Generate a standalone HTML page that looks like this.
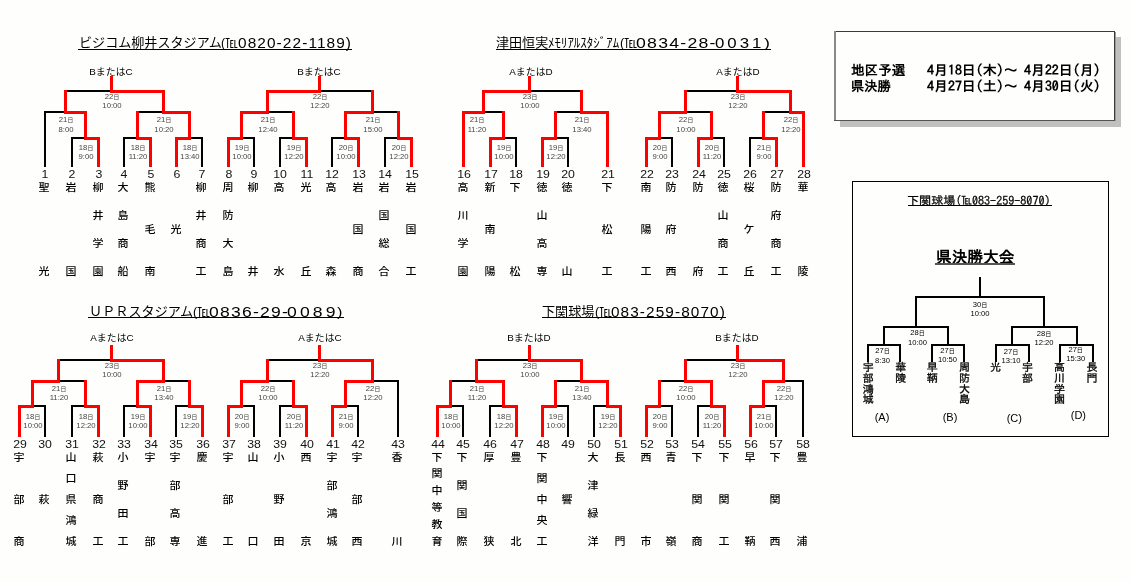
<!DOCTYPE html>
<html lang="ja"><head><meta charset="utf-8"><title>tournament</title>
<style>
html,body{margin:0;padding:0;}
body{width:1133px;height:582px;position:relative;overflow:hidden;background:#fefefc;
font-family:"Liberation Sans","Noto Sans CJK JP",sans-serif;}
.k{position:absolute;background:#000;}
.r{position:absolute;background:#ff0000;}
.t{position:absolute;white-space:nowrap;line-height:1;}
.c{transform:translateX(-50%);}
.num{font-size:11px;color:#111;}
.nm{font-size:10px;color:#000;font-family:"Liberation Sans","Noto Sans CJK JP",sans-serif;font-weight:500;}
.dt{font-size:7px;color:#444;}
.s{font-size:80%;}
.lb{font-size:9px;color:#000;}
.ttl{font-size:13px;color:#000;font-family:"Liberation Sans","Noto Sans CJK JP",sans-serif;transform-origin:0 0;}
.ul{position:absolute;height:1px;background:#000;}
.g{font-family:"IPAGothic","Noto Sans CJK JP",monospace;}
</style></head><body>

<div class="k" style="left:65px;top:90px;width:100px;height:2px"></div>
<div class="k" style="left:44px;top:111px;width:43px;height:2px"></div>
<div class="k" style="left:44px;top:111px;width:2px;height:56px"></div>
<div class="k" style="left:71px;top:137px;width:28px;height:2px"></div>
<div class="k" style="left:71px;top:137px;width:2px;height:30px"></div>
<div class="k" style="left:137px;top:111px;width:54px;height:2px"></div>
<div class="k" style="left:123px;top:137px;width:28px;height:2px"></div>
<div class="k" style="left:123px;top:137px;width:2px;height:30px"></div>
<div class="k" style="left:175px;top:137px;width:28px;height:2px"></div>
<div class="k" style="left:201px;top:137px;width:2px;height:30px"></div>
<div class="k" style="left:267px;top:90px;width:106px;height:2px"></div>
<div class="k" style="left:241px;top:111px;width:54px;height:2px"></div>
<div class="k" style="left:227px;top:137px;width:28px;height:2px"></div>
<div class="k" style="left:253px;top:137px;width:2px;height:30px"></div>
<div class="k" style="left:279px;top:137px;width:28px;height:2px"></div>
<div class="k" style="left:279px;top:137px;width:2px;height:30px"></div>
<div class="k" style="left:345px;top:111px;width:54px;height:2px"></div>
<div class="k" style="left:331px;top:137px;width:28px;height:2px"></div>
<div class="k" style="left:331px;top:137px;width:2px;height:30px"></div>
<div class="k" style="left:384px;top:137px;width:29px;height:2px"></div>
<div class="k" style="left:384px;top:137px;width:2px;height:30px"></div>
<div class="k" style="left:483px;top:90px;width:100px;height:2px"></div>
<div class="k" style="left:463px;top:111px;width:42px;height:2px"></div>
<div class="k" style="left:489px;top:137px;width:28px;height:2px"></div>
<div class="k" style="left:515px;top:137px;width:2px;height:30px"></div>
<div class="k" style="left:555px;top:111px;width:54px;height:2px"></div>
<div class="k" style="left:541px;top:137px;width:28px;height:2px"></div>
<div class="k" style="left:567px;top:137px;width:2px;height:30px"></div>
<div class="k" style="left:685px;top:90px;width:106px;height:2px"></div>
<div class="k" style="left:659px;top:111px;width:54px;height:2px"></div>
<div class="k" style="left:645px;top:137px;width:28px;height:2px"></div>
<div class="k" style="left:671px;top:137px;width:2px;height:30px"></div>
<div class="k" style="left:697px;top:137px;width:28px;height:2px"></div>
<div class="k" style="left:723px;top:137px;width:2px;height:30px"></div>
<div class="k" style="left:763px;top:111px;width:42px;height:2px"></div>
<div class="k" style="left:749px;top:137px;width:28px;height:2px"></div>
<div class="k" style="left:749px;top:137px;width:2px;height:30px"></div>
<div class="k" style="left:57px;top:359px;width:108px;height:2px"></div>
<div class="k" style="left:31px;top:380px;width:56px;height:2px"></div>
<div class="k" style="left:19px;top:405px;width:27px;height:2px"></div>
<div class="k" style="left:44px;top:405px;width:2px;height:32px"></div>
<div class="k" style="left:71px;top:405px;width:28px;height:2px"></div>
<div class="k" style="left:71px;top:405px;width:2px;height:32px"></div>
<div class="k" style="left:137px;top:380px;width:54px;height:2px"></div>
<div class="k" style="left:123px;top:405px;width:28px;height:2px"></div>
<div class="k" style="left:123px;top:405px;width:2px;height:32px"></div>
<div class="k" style="left:175px;top:405px;width:28px;height:2px"></div>
<div class="k" style="left:175px;top:405px;width:2px;height:32px"></div>
<div class="k" style="left:267px;top:359px;width:106px;height:2px"></div>
<div class="k" style="left:241px;top:380px;width:54px;height:2px"></div>
<div class="k" style="left:227px;top:405px;width:28px;height:2px"></div>
<div class="k" style="left:253px;top:405px;width:2px;height:32px"></div>
<div class="k" style="left:279px;top:405px;width:28px;height:2px"></div>
<div class="k" style="left:279px;top:405px;width:2px;height:32px"></div>
<div class="k" style="left:345px;top:380px;width:54px;height:2px"></div>
<div class="k" style="left:331px;top:405px;width:28px;height:2px"></div>
<div class="k" style="left:357px;top:405px;width:2px;height:32px"></div>
<div class="k" style="left:397px;top:380px;width:2px;height:57px"></div>
<div class="k" style="left:475px;top:359px;width:108px;height:2px"></div>
<div class="k" style="left:449px;top:380px;width:56px;height:2px"></div>
<div class="k" style="left:437px;top:405px;width:27px;height:2px"></div>
<div class="k" style="left:462px;top:405px;width:2px;height:32px"></div>
<div class="k" style="left:489px;top:405px;width:28px;height:2px"></div>
<div class="k" style="left:489px;top:405px;width:2px;height:32px"></div>
<div class="k" style="left:555px;top:380px;width:54px;height:2px"></div>
<div class="k" style="left:541px;top:405px;width:28px;height:2px"></div>
<div class="k" style="left:567px;top:405px;width:2px;height:32px"></div>
<div class="k" style="left:593px;top:405px;width:28px;height:2px"></div>
<div class="k" style="left:593px;top:405px;width:2px;height:32px"></div>
<div class="k" style="left:685px;top:359px;width:100px;height:2px"></div>
<div class="k" style="left:659px;top:380px;width:54px;height:2px"></div>
<div class="k" style="left:645px;top:405px;width:28px;height:2px"></div>
<div class="k" style="left:671px;top:405px;width:2px;height:32px"></div>
<div class="k" style="left:697px;top:405px;width:28px;height:2px"></div>
<div class="k" style="left:697px;top:405px;width:2px;height:32px"></div>
<div class="k" style="left:763px;top:380px;width:41px;height:2px"></div>
<div class="k" style="left:749px;top:405px;width:28px;height:2px"></div>
<div class="k" style="left:775px;top:405px;width:2px;height:32px"></div>
<div class="k" style="left:802px;top:380px;width:2px;height:57px"></div>
<div class="r" style="left:110px;top:76px;width:3px;height:14px"></div>
<div class="r" style="left:110px;top:90px;width:55px;height:3px"></div>
<div class="r" style="left:64px;top:90px;width:3px;height:21px"></div>
<div class="r" style="left:64px;top:111px;width:23px;height:3px"></div>
<div class="r" style="left:84px;top:111px;width:3px;height:26px"></div>
<div class="r" style="left:84px;top:137px;width:16px;height:3px"></div>
<div class="r" style="left:97px;top:137px;width:3px;height:30px"></div>
<div class="r" style="left:162px;top:90px;width:3px;height:21px"></div>
<div class="r" style="left:162px;top:111px;width:29px;height:3px"></div>
<div class="r" style="left:136px;top:111px;width:3px;height:26px"></div>
<div class="r" style="left:136px;top:137px;width:16px;height:3px"></div>
<div class="r" style="left:149px;top:137px;width:3px;height:30px"></div>
<div class="r" style="left:188px;top:111px;width:3px;height:26px"></div>
<div class="r" style="left:175px;top:137px;width:16px;height:3px"></div>
<div class="r" style="left:175px;top:137px;width:3px;height:30px"></div>
<div class="r" style="left:318px;top:76px;width:3px;height:14px"></div>
<div class="r" style="left:266px;top:90px;width:55px;height:3px"></div>
<div class="r" style="left:266px;top:90px;width:3px;height:21px"></div>
<div class="r" style="left:240px;top:111px;width:29px;height:3px"></div>
<div class="r" style="left:240px;top:111px;width:3px;height:26px"></div>
<div class="r" style="left:227px;top:137px;width:16px;height:3px"></div>
<div class="r" style="left:227px;top:137px;width:3px;height:30px"></div>
<div class="r" style="left:292px;top:111px;width:3px;height:26px"></div>
<div class="r" style="left:292px;top:137px;width:16px;height:3px"></div>
<div class="r" style="left:305px;top:137px;width:3px;height:30px"></div>
<div class="r" style="left:371px;top:90px;width:3px;height:21px"></div>
<div class="r" style="left:344px;top:111px;width:30px;height:3px"></div>
<div class="r" style="left:344px;top:111px;width:3px;height:26px"></div>
<div class="r" style="left:344px;top:137px;width:16px;height:3px"></div>
<div class="r" style="left:357px;top:137px;width:3px;height:30px"></div>
<div class="r" style="left:397px;top:111px;width:3px;height:26px"></div>
<div class="r" style="left:397px;top:137px;width:16px;height:3px"></div>
<div class="r" style="left:410px;top:137px;width:3px;height:30px"></div>
<div class="r" style="left:528px;top:76px;width:3px;height:14px"></div>
<div class="r" style="left:482px;top:90px;width:49px;height:3px"></div>
<div class="r" style="left:482px;top:90px;width:3px;height:21px"></div>
<div class="r" style="left:462px;top:111px;width:23px;height:3px"></div>
<div class="r" style="left:462px;top:111px;width:3px;height:56px"></div>
<div class="r" style="left:502px;top:111px;width:3px;height:26px"></div>
<div class="r" style="left:489px;top:137px;width:16px;height:3px"></div>
<div class="r" style="left:489px;top:137px;width:3px;height:30px"></div>
<div class="r" style="left:580px;top:90px;width:3px;height:21px"></div>
<div class="r" style="left:580px;top:111px;width:29px;height:3px"></div>
<div class="r" style="left:554px;top:111px;width:3px;height:26px"></div>
<div class="r" style="left:541px;top:137px;width:16px;height:3px"></div>
<div class="r" style="left:541px;top:137px;width:3px;height:30px"></div>
<div class="r" style="left:606px;top:111px;width:3px;height:56px"></div>
<div class="r" style="left:736px;top:76px;width:3px;height:14px"></div>
<div class="r" style="left:736px;top:90px;width:56px;height:3px"></div>
<div class="r" style="left:684px;top:90px;width:3px;height:21px"></div>
<div class="r" style="left:658px;top:111px;width:29px;height:3px"></div>
<div class="r" style="left:658px;top:111px;width:3px;height:26px"></div>
<div class="r" style="left:645px;top:137px;width:16px;height:3px"></div>
<div class="r" style="left:645px;top:137px;width:3px;height:30px"></div>
<div class="r" style="left:710px;top:111px;width:3px;height:26px"></div>
<div class="r" style="left:697px;top:137px;width:16px;height:3px"></div>
<div class="r" style="left:697px;top:137px;width:3px;height:30px"></div>
<div class="r" style="left:789px;top:90px;width:3px;height:21px"></div>
<div class="r" style="left:789px;top:111px;width:16px;height:3px"></div>
<div class="r" style="left:762px;top:111px;width:3px;height:26px"></div>
<div class="r" style="left:762px;top:137px;width:16px;height:3px"></div>
<div class="r" style="left:775px;top:137px;width:3px;height:30px"></div>
<div class="r" style="left:802px;top:111px;width:3px;height:56px"></div>
<div class="r" style="left:110px;top:345px;width:3px;height:14px"></div>
<div class="r" style="left:110px;top:359px;width:55px;height:3px"></div>
<div class="r" style="left:57px;top:359px;width:3px;height:21px"></div>
<div class="r" style="left:31px;top:380px;width:29px;height:3px"></div>
<div class="r" style="left:31px;top:380px;width:3px;height:25px"></div>
<div class="r" style="left:18px;top:405px;width:16px;height:3px"></div>
<div class="r" style="left:18px;top:405px;width:3px;height:32px"></div>
<div class="r" style="left:84px;top:380px;width:3px;height:25px"></div>
<div class="r" style="left:84px;top:405px;width:16px;height:3px"></div>
<div class="r" style="left:97px;top:405px;width:3px;height:32px"></div>
<div class="r" style="left:162px;top:359px;width:3px;height:21px"></div>
<div class="r" style="left:136px;top:380px;width:29px;height:3px"></div>
<div class="r" style="left:136px;top:380px;width:3px;height:25px"></div>
<div class="r" style="left:136px;top:405px;width:16px;height:3px"></div>
<div class="r" style="left:149px;top:405px;width:3px;height:32px"></div>
<div class="r" style="left:188px;top:380px;width:3px;height:25px"></div>
<div class="r" style="left:188px;top:405px;width:16px;height:3px"></div>
<div class="r" style="left:201px;top:405px;width:3px;height:32px"></div>
<div class="r" style="left:318px;top:345px;width:3px;height:14px"></div>
<div class="r" style="left:318px;top:359px;width:56px;height:3px"></div>
<div class="r" style="left:266px;top:359px;width:3px;height:21px"></div>
<div class="r" style="left:240px;top:380px;width:29px;height:3px"></div>
<div class="r" style="left:240px;top:380px;width:3px;height:25px"></div>
<div class="r" style="left:227px;top:405px;width:16px;height:3px"></div>
<div class="r" style="left:227px;top:405px;width:3px;height:32px"></div>
<div class="r" style="left:292px;top:380px;width:3px;height:25px"></div>
<div class="r" style="left:292px;top:405px;width:16px;height:3px"></div>
<div class="r" style="left:305px;top:405px;width:3px;height:32px"></div>
<div class="r" style="left:371px;top:359px;width:3px;height:21px"></div>
<div class="r" style="left:344px;top:380px;width:30px;height:3px"></div>
<div class="r" style="left:344px;top:380px;width:3px;height:25px"></div>
<div class="r" style="left:331px;top:405px;width:16px;height:3px"></div>
<div class="r" style="left:331px;top:405px;width:3px;height:32px"></div>
<div class="r" style="left:528px;top:345px;width:3px;height:14px"></div>
<div class="r" style="left:528px;top:359px;width:55px;height:3px"></div>
<div class="r" style="left:475px;top:359px;width:3px;height:21px"></div>
<div class="r" style="left:475px;top:380px;width:30px;height:3px"></div>
<div class="r" style="left:449px;top:380px;width:3px;height:25px"></div>
<div class="r" style="left:436px;top:405px;width:16px;height:3px"></div>
<div class="r" style="left:436px;top:405px;width:3px;height:32px"></div>
<div class="r" style="left:502px;top:380px;width:3px;height:25px"></div>
<div class="r" style="left:502px;top:405px;width:16px;height:3px"></div>
<div class="r" style="left:515px;top:405px;width:3px;height:32px"></div>
<div class="r" style="left:580px;top:359px;width:3px;height:21px"></div>
<div class="r" style="left:580px;top:380px;width:29px;height:3px"></div>
<div class="r" style="left:554px;top:380px;width:3px;height:25px"></div>
<div class="r" style="left:541px;top:405px;width:16px;height:3px"></div>
<div class="r" style="left:541px;top:405px;width:3px;height:32px"></div>
<div class="r" style="left:606px;top:380px;width:3px;height:25px"></div>
<div class="r" style="left:606px;top:405px;width:16px;height:3px"></div>
<div class="r" style="left:619px;top:405px;width:3px;height:32px"></div>
<div class="r" style="left:736px;top:345px;width:3px;height:14px"></div>
<div class="r" style="left:736px;top:359px;width:49px;height:3px"></div>
<div class="r" style="left:684px;top:359px;width:3px;height:21px"></div>
<div class="r" style="left:684px;top:380px;width:29px;height:3px"></div>
<div class="r" style="left:658px;top:380px;width:3px;height:25px"></div>
<div class="r" style="left:645px;top:405px;width:16px;height:3px"></div>
<div class="r" style="left:645px;top:405px;width:3px;height:32px"></div>
<div class="r" style="left:710px;top:380px;width:3px;height:25px"></div>
<div class="r" style="left:710px;top:405px;width:16px;height:3px"></div>
<div class="r" style="left:723px;top:405px;width:3px;height:32px"></div>
<div class="r" style="left:782px;top:359px;width:3px;height:21px"></div>
<div class="r" style="left:762px;top:380px;width:23px;height:3px"></div>
<div class="r" style="left:762px;top:380px;width:3px;height:25px"></div>
<div class="r" style="left:749px;top:405px;width:16px;height:3px"></div>
<div class="r" style="left:749px;top:405px;width:3px;height:32px"></div>
<div class="t lb" style="left:110.80px;top:67.50px;transform:translateX(-50%) scaleX(1.100)">BまたはC</div>
<div class="t dt" style="left:111.50px;top:92.60px;transform:translateX(-50%) scaleX(1.100)">22<span class="s">日</span></div>
<div class="t dt" style="left:111.50px;top:101.90px;transform:translateX(-50%) scaleX(1.100)">10:00</div>
<div class="t dt" style="left:65.50px;top:116.20px;transform:translateX(-50%) scaleX(1.100)">21<span class="s">日</span></div>
<div class="t dt" style="left:65.50px;top:125.50px;transform:translateX(-50%) scaleX(1.100)">8:00</div>
<div class="t num" style="left:45.00px;top:169.00px;transform:translateX(-50%) scaleX(1.120)">1</div>
<div class="t nm" style="left:44.30px;top:183.00px;transform:translateX(-50%) scaleX(1.100)">聖</div>
<div class="t nm" style="left:44.30px;top:267.00px;transform:translateX(-50%) scaleX(1.100)">光</div>
<div class="t dt" style="left:85.50px;top:143.90px;transform:translateX(-50%) scaleX(1.100)">18<span class="s">日</span></div>
<div class="t dt" style="left:85.50px;top:153.20px;transform:translateX(-50%) scaleX(1.100)">9:00</div>
<div class="t num" style="left:72.00px;top:169.00px;transform:translateX(-50%) scaleX(1.120)">2</div>
<div class="t nm" style="left:71.30px;top:183.00px;transform:translateX(-50%) scaleX(1.100)">岩</div>
<div class="t nm" style="left:71.30px;top:267.00px;transform:translateX(-50%) scaleX(1.100)">国</div>
<div class="t num" style="left:98.50px;top:169.00px;transform:translateX(-50%) scaleX(1.120)">3</div>
<div class="t nm" style="left:97.80px;top:183.00px;transform:translateX(-50%) scaleX(1.100)">柳</div>
<div class="t nm" style="left:97.80px;top:211.00px;transform:translateX(-50%) scaleX(1.100)">井</div>
<div class="t nm" style="left:97.80px;top:239.00px;transform:translateX(-50%) scaleX(1.100)">学</div>
<div class="t nm" style="left:97.80px;top:267.00px;transform:translateX(-50%) scaleX(1.100)">園</div>
<div class="t dt" style="left:163.50px;top:116.20px;transform:translateX(-50%) scaleX(1.100)">21<span class="s">日</span></div>
<div class="t dt" style="left:163.50px;top:125.50px;transform:translateX(-50%) scaleX(1.100)">10:20</div>
<div class="t dt" style="left:137.50px;top:143.90px;transform:translateX(-50%) scaleX(1.100)">18<span class="s">日</span></div>
<div class="t dt" style="left:137.50px;top:153.20px;transform:translateX(-50%) scaleX(1.100)">11:20</div>
<div class="t num" style="left:124.00px;top:169.00px;transform:translateX(-50%) scaleX(1.120)">4</div>
<div class="t nm" style="left:123.30px;top:183.00px;transform:translateX(-50%) scaleX(1.100)">大</div>
<div class="t nm" style="left:123.30px;top:211.00px;transform:translateX(-50%) scaleX(1.100)">島</div>
<div class="t nm" style="left:123.30px;top:239.00px;transform:translateX(-50%) scaleX(1.100)">商</div>
<div class="t nm" style="left:123.30px;top:267.00px;transform:translateX(-50%) scaleX(1.100)">船</div>
<div class="t num" style="left:150.50px;top:169.00px;transform:translateX(-50%) scaleX(1.120)">5</div>
<div class="t nm" style="left:149.80px;top:183.00px;transform:translateX(-50%) scaleX(1.100)">熊</div>
<div class="t nm" style="left:149.80px;top:225.00px;transform:translateX(-50%) scaleX(1.100)">毛</div>
<div class="t nm" style="left:149.80px;top:267.00px;transform:translateX(-50%) scaleX(1.100)">南</div>
<div class="t dt" style="left:189.50px;top:143.90px;transform:translateX(-50%) scaleX(1.100)">18<span class="s">日</span></div>
<div class="t dt" style="left:189.50px;top:153.20px;transform:translateX(-50%) scaleX(1.100)">13:40</div>
<div class="t num" style="left:176.50px;top:169.00px;transform:translateX(-50%) scaleX(1.120)">6</div>
<div class="t nm" style="left:175.80px;top:225.00px;transform:translateX(-50%) scaleX(1.100)">光</div>
<div class="t num" style="left:202.00px;top:169.00px;transform:translateX(-50%) scaleX(1.120)">7</div>
<div class="t nm" style="left:201.30px;top:183.00px;transform:translateX(-50%) scaleX(1.100)">柳</div>
<div class="t nm" style="left:201.30px;top:211.00px;transform:translateX(-50%) scaleX(1.100)">井</div>
<div class="t nm" style="left:201.30px;top:239.00px;transform:translateX(-50%) scaleX(1.100)">商</div>
<div class="t nm" style="left:201.30px;top:267.00px;transform:translateX(-50%) scaleX(1.100)">工</div>
<div class="t lb" style="left:319.00px;top:67.50px;transform:translateX(-50%) scaleX(1.100)">BまたはC</div>
<div class="t dt" style="left:319.50px;top:92.60px;transform:translateX(-50%) scaleX(1.100)">22<span class="s">日</span></div>
<div class="t dt" style="left:319.50px;top:101.90px;transform:translateX(-50%) scaleX(1.100)">12:20</div>
<div class="t dt" style="left:267.50px;top:116.20px;transform:translateX(-50%) scaleX(1.100)">21<span class="s">日</span></div>
<div class="t dt" style="left:267.50px;top:125.50px;transform:translateX(-50%) scaleX(1.100)">12:40</div>
<div class="t dt" style="left:241.50px;top:143.90px;transform:translateX(-50%) scaleX(1.100)">19<span class="s">日</span></div>
<div class="t dt" style="left:241.50px;top:153.20px;transform:translateX(-50%) scaleX(1.100)">10:00</div>
<div class="t num" style="left:228.50px;top:169.00px;transform:translateX(-50%) scaleX(1.120)">8</div>
<div class="t nm" style="left:227.80px;top:183.00px;transform:translateX(-50%) scaleX(1.100)">周</div>
<div class="t nm" style="left:227.80px;top:211.00px;transform:translateX(-50%) scaleX(1.100)">防</div>
<div class="t nm" style="left:227.80px;top:239.00px;transform:translateX(-50%) scaleX(1.100)">大</div>
<div class="t nm" style="left:227.80px;top:267.00px;transform:translateX(-50%) scaleX(1.100)">島</div>
<div class="t num" style="left:254.00px;top:169.00px;transform:translateX(-50%) scaleX(1.120)">9</div>
<div class="t nm" style="left:253.30px;top:183.00px;transform:translateX(-50%) scaleX(1.100)">柳</div>
<div class="t nm" style="left:253.30px;top:267.00px;transform:translateX(-50%) scaleX(1.100)">井</div>
<div class="t dt" style="left:293.50px;top:143.90px;transform:translateX(-50%) scaleX(1.100)">19<span class="s">日</span></div>
<div class="t dt" style="left:293.50px;top:153.20px;transform:translateX(-50%) scaleX(1.100)">12:20</div>
<div class="t num" style="left:280.00px;top:169.00px;transform:translateX(-50%) scaleX(1.120)">10</div>
<div class="t nm" style="left:279.30px;top:183.00px;transform:translateX(-50%) scaleX(1.100)">高</div>
<div class="t nm" style="left:279.30px;top:267.00px;transform:translateX(-50%) scaleX(1.100)">水</div>
<div class="t num" style="left:306.50px;top:169.00px;transform:translateX(-50%) scaleX(1.120)">11</div>
<div class="t nm" style="left:305.80px;top:183.00px;transform:translateX(-50%) scaleX(1.100)">光</div>
<div class="t nm" style="left:305.80px;top:267.00px;transform:translateX(-50%) scaleX(1.100)">丘</div>
<div class="t dt" style="left:372.50px;top:116.20px;transform:translateX(-50%) scaleX(1.100)">21<span class="s">日</span></div>
<div class="t dt" style="left:372.50px;top:125.50px;transform:translateX(-50%) scaleX(1.100)">15:00</div>
<div class="t dt" style="left:345.50px;top:143.90px;transform:translateX(-50%) scaleX(1.100)">20<span class="s">日</span></div>
<div class="t dt" style="left:345.50px;top:153.20px;transform:translateX(-50%) scaleX(1.100)">10:00</div>
<div class="t num" style="left:332.00px;top:169.00px;transform:translateX(-50%) scaleX(1.120)">12</div>
<div class="t nm" style="left:331.30px;top:183.00px;transform:translateX(-50%) scaleX(1.100)">高</div>
<div class="t nm" style="left:331.30px;top:267.00px;transform:translateX(-50%) scaleX(1.100)">森</div>
<div class="t num" style="left:358.50px;top:169.00px;transform:translateX(-50%) scaleX(1.120)">13</div>
<div class="t nm" style="left:357.80px;top:183.00px;transform:translateX(-50%) scaleX(1.100)">岩</div>
<div class="t nm" style="left:357.80px;top:225.00px;transform:translateX(-50%) scaleX(1.100)">国</div>
<div class="t nm" style="left:357.80px;top:267.00px;transform:translateX(-50%) scaleX(1.100)">商</div>
<div class="t dt" style="left:398.50px;top:143.90px;transform:translateX(-50%) scaleX(1.100)">20<span class="s">日</span></div>
<div class="t dt" style="left:398.50px;top:153.20px;transform:translateX(-50%) scaleX(1.100)">12:20</div>
<div class="t num" style="left:385.00px;top:169.00px;transform:translateX(-50%) scaleX(1.120)">14</div>
<div class="t nm" style="left:384.30px;top:183.00px;transform:translateX(-50%) scaleX(1.100)">岩</div>
<div class="t nm" style="left:384.30px;top:211.00px;transform:translateX(-50%) scaleX(1.100)">国</div>
<div class="t nm" style="left:384.30px;top:239.00px;transform:translateX(-50%) scaleX(1.100)">総</div>
<div class="t nm" style="left:384.30px;top:267.00px;transform:translateX(-50%) scaleX(1.100)">合</div>
<div class="t num" style="left:411.50px;top:169.00px;transform:translateX(-50%) scaleX(1.120)">15</div>
<div class="t nm" style="left:410.80px;top:183.00px;transform:translateX(-50%) scaleX(1.100)">岩</div>
<div class="t nm" style="left:410.80px;top:225.00px;transform:translateX(-50%) scaleX(1.100)">国</div>
<div class="t nm" style="left:410.80px;top:267.00px;transform:translateX(-50%) scaleX(1.100)">工</div>
<div class="t lb" style="left:531.00px;top:67.50px;transform:translateX(-50%) scaleX(1.100)">AまたはD</div>
<div class="t dt" style="left:529.50px;top:92.60px;transform:translateX(-50%) scaleX(1.100)">23<span class="s">日</span></div>
<div class="t dt" style="left:529.50px;top:101.90px;transform:translateX(-50%) scaleX(1.100)">10:00</div>
<div class="t dt" style="left:476.60px;top:116.20px;transform:translateX(-50%) scaleX(1.100)">21<span class="s">日</span></div>
<div class="t dt" style="left:476.60px;top:125.50px;transform:translateX(-50%) scaleX(1.100)">11:20</div>
<div class="t num" style="left:463.50px;top:169.00px;transform:translateX(-50%) scaleX(1.120)">16</div>
<div class="t nm" style="left:462.80px;top:183.00px;transform:translateX(-50%) scaleX(1.100)">高</div>
<div class="t nm" style="left:462.80px;top:211.00px;transform:translateX(-50%) scaleX(1.100)">川</div>
<div class="t nm" style="left:462.80px;top:239.00px;transform:translateX(-50%) scaleX(1.100)">学</div>
<div class="t nm" style="left:462.80px;top:267.00px;transform:translateX(-50%) scaleX(1.100)">園</div>
<div class="t dt" style="left:503.50px;top:143.90px;transform:translateX(-50%) scaleX(1.100)">19<span class="s">日</span></div>
<div class="t dt" style="left:503.50px;top:153.20px;transform:translateX(-50%) scaleX(1.100)">10:00</div>
<div class="t num" style="left:490.50px;top:169.00px;transform:translateX(-50%) scaleX(1.120)">17</div>
<div class="t nm" style="left:489.80px;top:183.00px;transform:translateX(-50%) scaleX(1.100)">新</div>
<div class="t nm" style="left:489.80px;top:225.00px;transform:translateX(-50%) scaleX(1.100)">南</div>
<div class="t nm" style="left:489.80px;top:267.00px;transform:translateX(-50%) scaleX(1.100)">陽</div>
<div class="t num" style="left:516.00px;top:169.00px;transform:translateX(-50%) scaleX(1.120)">18</div>
<div class="t nm" style="left:515.30px;top:183.00px;transform:translateX(-50%) scaleX(1.100)">下</div>
<div class="t nm" style="left:515.30px;top:267.00px;transform:translateX(-50%) scaleX(1.100)">松</div>
<div class="t dt" style="left:581.50px;top:116.20px;transform:translateX(-50%) scaleX(1.100)">21<span class="s">日</span></div>
<div class="t dt" style="left:581.50px;top:125.50px;transform:translateX(-50%) scaleX(1.100)">13:40</div>
<div class="t dt" style="left:555.50px;top:143.90px;transform:translateX(-50%) scaleX(1.100)">19<span class="s">日</span></div>
<div class="t dt" style="left:555.50px;top:153.20px;transform:translateX(-50%) scaleX(1.100)">12:20</div>
<div class="t num" style="left:542.50px;top:169.00px;transform:translateX(-50%) scaleX(1.120)">19</div>
<div class="t nm" style="left:541.80px;top:183.00px;transform:translateX(-50%) scaleX(1.100)">徳</div>
<div class="t nm" style="left:541.80px;top:211.00px;transform:translateX(-50%) scaleX(1.100)">山</div>
<div class="t nm" style="left:541.80px;top:239.00px;transform:translateX(-50%) scaleX(1.100)">高</div>
<div class="t nm" style="left:541.80px;top:267.00px;transform:translateX(-50%) scaleX(1.100)">専</div>
<div class="t num" style="left:568.00px;top:169.00px;transform:translateX(-50%) scaleX(1.120)">20</div>
<div class="t nm" style="left:567.30px;top:183.00px;transform:translateX(-50%) scaleX(1.100)">徳</div>
<div class="t nm" style="left:567.30px;top:267.00px;transform:translateX(-50%) scaleX(1.100)">山</div>
<div class="t num" style="left:607.50px;top:169.00px;transform:translateX(-50%) scaleX(1.120)">21</div>
<div class="t nm" style="left:606.80px;top:183.00px;transform:translateX(-50%) scaleX(1.100)">下</div>
<div class="t nm" style="left:606.80px;top:225.00px;transform:translateX(-50%) scaleX(1.100)">松</div>
<div class="t nm" style="left:606.80px;top:267.00px;transform:translateX(-50%) scaleX(1.100)">工</div>
<div class="t lb" style="left:738.00px;top:67.50px;transform:translateX(-50%) scaleX(1.100)">AまたはD</div>
<div class="t dt" style="left:737.50px;top:92.60px;transform:translateX(-50%) scaleX(1.100)">23<span class="s">日</span></div>
<div class="t dt" style="left:737.50px;top:101.90px;transform:translateX(-50%) scaleX(1.100)">12:20</div>
<div class="t dt" style="left:685.50px;top:116.20px;transform:translateX(-50%) scaleX(1.100)">22<span class="s">日</span></div>
<div class="t dt" style="left:685.50px;top:125.50px;transform:translateX(-50%) scaleX(1.100)">10:00</div>
<div class="t dt" style="left:659.50px;top:143.90px;transform:translateX(-50%) scaleX(1.100)">20<span class="s">日</span></div>
<div class="t dt" style="left:659.50px;top:153.20px;transform:translateX(-50%) scaleX(1.100)">9:00</div>
<div class="t num" style="left:646.50px;top:169.00px;transform:translateX(-50%) scaleX(1.120)">22</div>
<div class="t nm" style="left:645.80px;top:183.00px;transform:translateX(-50%) scaleX(1.100)">南</div>
<div class="t nm" style="left:645.80px;top:225.00px;transform:translateX(-50%) scaleX(1.100)">陽</div>
<div class="t nm" style="left:645.80px;top:267.00px;transform:translateX(-50%) scaleX(1.100)">工</div>
<div class="t num" style="left:672.00px;top:169.00px;transform:translateX(-50%) scaleX(1.120)">23</div>
<div class="t nm" style="left:671.30px;top:183.00px;transform:translateX(-50%) scaleX(1.100)">防</div>
<div class="t nm" style="left:671.30px;top:225.00px;transform:translateX(-50%) scaleX(1.100)">府</div>
<div class="t nm" style="left:671.30px;top:267.00px;transform:translateX(-50%) scaleX(1.100)">西</div>
<div class="t dt" style="left:711.50px;top:143.90px;transform:translateX(-50%) scaleX(1.100)">20<span class="s">日</span></div>
<div class="t dt" style="left:711.50px;top:153.20px;transform:translateX(-50%) scaleX(1.100)">11:20</div>
<div class="t num" style="left:698.50px;top:169.00px;transform:translateX(-50%) scaleX(1.120)">24</div>
<div class="t nm" style="left:697.80px;top:183.00px;transform:translateX(-50%) scaleX(1.100)">防</div>
<div class="t nm" style="left:697.80px;top:267.00px;transform:translateX(-50%) scaleX(1.100)">府</div>
<div class="t num" style="left:724.00px;top:169.00px;transform:translateX(-50%) scaleX(1.120)">25</div>
<div class="t nm" style="left:723.30px;top:183.00px;transform:translateX(-50%) scaleX(1.100)">徳</div>
<div class="t nm" style="left:723.30px;top:211.00px;transform:translateX(-50%) scaleX(1.100)">山</div>
<div class="t nm" style="left:723.30px;top:239.00px;transform:translateX(-50%) scaleX(1.100)">商</div>
<div class="t nm" style="left:723.30px;top:267.00px;transform:translateX(-50%) scaleX(1.100)">工</div>
<div class="t dt" style="left:790.50px;top:116.20px;transform:translateX(-50%) scaleX(1.100)">22<span class="s">日</span></div>
<div class="t dt" style="left:790.50px;top:125.50px;transform:translateX(-50%) scaleX(1.100)">12:20</div>
<div class="t dt" style="left:763.50px;top:143.90px;transform:translateX(-50%) scaleX(1.100)">21<span class="s">日</span></div>
<div class="t dt" style="left:763.50px;top:153.20px;transform:translateX(-50%) scaleX(1.100)">9:00</div>
<div class="t num" style="left:750.00px;top:169.00px;transform:translateX(-50%) scaleX(1.120)">26</div>
<div class="t nm" style="left:749.30px;top:183.00px;transform:translateX(-50%) scaleX(1.100)">桜</div>
<div class="t nm" style="left:749.30px;top:225.00px;transform:translateX(-50%) scaleX(1.100)">ケ</div>
<div class="t nm" style="left:749.30px;top:267.00px;transform:translateX(-50%) scaleX(1.100)">丘</div>
<div class="t num" style="left:776.50px;top:169.00px;transform:translateX(-50%) scaleX(1.120)">27</div>
<div class="t nm" style="left:775.80px;top:183.00px;transform:translateX(-50%) scaleX(1.100)">防</div>
<div class="t nm" style="left:775.80px;top:211.00px;transform:translateX(-50%) scaleX(1.100)">府</div>
<div class="t nm" style="left:775.80px;top:239.00px;transform:translateX(-50%) scaleX(1.100)">商</div>
<div class="t nm" style="left:775.80px;top:267.00px;transform:translateX(-50%) scaleX(1.100)">工</div>
<div class="t num" style="left:803.50px;top:169.00px;transform:translateX(-50%) scaleX(1.120)">28</div>
<div class="t nm" style="left:802.80px;top:183.00px;transform:translateX(-50%) scaleX(1.100)">華</div>
<div class="t nm" style="left:802.80px;top:267.00px;transform:translateX(-50%) scaleX(1.100)">陵</div>
<div class="t lb" style="left:111.70px;top:333.90px;transform:translateX(-50%) scaleX(1.100)">AまたはC</div>
<div class="t dt" style="left:111.50px;top:362.00px;transform:translateX(-50%) scaleX(1.100)">23<span class="s">日</span></div>
<div class="t dt" style="left:111.50px;top:371.30px;transform:translateX(-50%) scaleX(1.100)">10:00</div>
<div class="t dt" style="left:58.50px;top:384.90px;transform:translateX(-50%) scaleX(1.100)">21<span class="s">日</span></div>
<div class="t dt" style="left:58.50px;top:394.20px;transform:translateX(-50%) scaleX(1.100)">11:20</div>
<div class="t dt" style="left:32.50px;top:413.00px;transform:translateX(-50%) scaleX(1.100)">18<span class="s">日</span></div>
<div class="t dt" style="left:32.50px;top:422.30px;transform:translateX(-50%) scaleX(1.100)">10:00</div>
<div class="t num" style="left:19.50px;top:438.70px;transform:translateX(-50%) scaleX(1.120)">29</div>
<div class="t nm" style="left:18.80px;top:452.60px;transform:translateX(-50%) scaleX(1.100)">宇</div>
<div class="t nm" style="left:18.80px;top:494.60px;transform:translateX(-50%) scaleX(1.100)">部</div>
<div class="t nm" style="left:18.80px;top:536.60px;transform:translateX(-50%) scaleX(1.100)">商</div>
<div class="t num" style="left:45.00px;top:438.70px;transform:translateX(-50%) scaleX(1.120)">30</div>
<div class="t nm" style="left:44.30px;top:494.60px;transform:translateX(-50%) scaleX(1.100)">萩</div>
<div class="t dt" style="left:85.50px;top:413.00px;transform:translateX(-50%) scaleX(1.100)">18<span class="s">日</span></div>
<div class="t dt" style="left:85.50px;top:422.30px;transform:translateX(-50%) scaleX(1.100)">12:20</div>
<div class="t num" style="left:72.00px;top:438.70px;transform:translateX(-50%) scaleX(1.120)">31</div>
<div class="t nm" style="left:71.30px;top:452.60px;transform:translateX(-50%) scaleX(1.100)">山</div>
<div class="t nm" style="left:71.30px;top:473.60px;transform:translateX(-50%) scaleX(1.100)">口</div>
<div class="t nm" style="left:71.30px;top:494.60px;transform:translateX(-50%) scaleX(1.100)">県</div>
<div class="t nm" style="left:71.30px;top:515.60px;transform:translateX(-50%) scaleX(1.100)">鴻</div>
<div class="t nm" style="left:71.30px;top:536.60px;transform:translateX(-50%) scaleX(1.100)">城</div>
<div class="t num" style="left:98.50px;top:438.70px;transform:translateX(-50%) scaleX(1.120)">32</div>
<div class="t nm" style="left:97.80px;top:452.60px;transform:translateX(-50%) scaleX(1.100)">萩</div>
<div class="t nm" style="left:97.80px;top:494.60px;transform:translateX(-50%) scaleX(1.100)">商</div>
<div class="t nm" style="left:97.80px;top:536.60px;transform:translateX(-50%) scaleX(1.100)">工</div>
<div class="t dt" style="left:163.50px;top:384.90px;transform:translateX(-50%) scaleX(1.100)">21<span class="s">日</span></div>
<div class="t dt" style="left:163.50px;top:394.20px;transform:translateX(-50%) scaleX(1.100)">13:40</div>
<div class="t dt" style="left:137.50px;top:413.00px;transform:translateX(-50%) scaleX(1.100)">19<span class="s">日</span></div>
<div class="t dt" style="left:137.50px;top:422.30px;transform:translateX(-50%) scaleX(1.100)">10:00</div>
<div class="t num" style="left:124.00px;top:438.70px;transform:translateX(-50%) scaleX(1.120)">33</div>
<div class="t nm" style="left:123.30px;top:452.60px;transform:translateX(-50%) scaleX(1.100)">小</div>
<div class="t nm" style="left:123.30px;top:480.60px;transform:translateX(-50%) scaleX(1.100)">野</div>
<div class="t nm" style="left:123.30px;top:508.60px;transform:translateX(-50%) scaleX(1.100)">田</div>
<div class="t nm" style="left:123.30px;top:536.60px;transform:translateX(-50%) scaleX(1.100)">工</div>
<div class="t num" style="left:150.50px;top:438.70px;transform:translateX(-50%) scaleX(1.120)">34</div>
<div class="t nm" style="left:149.80px;top:452.60px;transform:translateX(-50%) scaleX(1.100)">宇</div>
<div class="t nm" style="left:149.80px;top:536.60px;transform:translateX(-50%) scaleX(1.100)">部</div>
<div class="t dt" style="left:189.50px;top:413.00px;transform:translateX(-50%) scaleX(1.100)">19<span class="s">日</span></div>
<div class="t dt" style="left:189.50px;top:422.30px;transform:translateX(-50%) scaleX(1.100)">12:20</div>
<div class="t num" style="left:176.00px;top:438.70px;transform:translateX(-50%) scaleX(1.120)">35</div>
<div class="t nm" style="left:175.30px;top:452.60px;transform:translateX(-50%) scaleX(1.100)">宇</div>
<div class="t nm" style="left:175.30px;top:480.60px;transform:translateX(-50%) scaleX(1.100)">部</div>
<div class="t nm" style="left:175.30px;top:508.60px;transform:translateX(-50%) scaleX(1.100)">高</div>
<div class="t nm" style="left:175.30px;top:536.60px;transform:translateX(-50%) scaleX(1.100)">専</div>
<div class="t num" style="left:202.50px;top:438.70px;transform:translateX(-50%) scaleX(1.120)">36</div>
<div class="t nm" style="left:201.80px;top:452.60px;transform:translateX(-50%) scaleX(1.100)">慶</div>
<div class="t nm" style="left:201.80px;top:536.60px;transform:translateX(-50%) scaleX(1.100)">進</div>
<div class="t lb" style="left:320.00px;top:333.90px;transform:translateX(-50%) scaleX(1.100)">AまたはC</div>
<div class="t dt" style="left:319.50px;top:362.00px;transform:translateX(-50%) scaleX(1.100)">23<span class="s">日</span></div>
<div class="t dt" style="left:319.50px;top:371.30px;transform:translateX(-50%) scaleX(1.100)">12:20</div>
<div class="t dt" style="left:267.50px;top:384.90px;transform:translateX(-50%) scaleX(1.100)">22<span class="s">日</span></div>
<div class="t dt" style="left:267.50px;top:394.20px;transform:translateX(-50%) scaleX(1.100)">10:00</div>
<div class="t dt" style="left:241.50px;top:413.00px;transform:translateX(-50%) scaleX(1.100)">20<span class="s">日</span></div>
<div class="t dt" style="left:241.50px;top:422.30px;transform:translateX(-50%) scaleX(1.100)">9:00</div>
<div class="t num" style="left:228.50px;top:438.70px;transform:translateX(-50%) scaleX(1.120)">37</div>
<div class="t nm" style="left:227.80px;top:452.60px;transform:translateX(-50%) scaleX(1.100)">宇</div>
<div class="t nm" style="left:227.80px;top:494.60px;transform:translateX(-50%) scaleX(1.100)">部</div>
<div class="t nm" style="left:227.80px;top:536.60px;transform:translateX(-50%) scaleX(1.100)">工</div>
<div class="t num" style="left:254.00px;top:438.70px;transform:translateX(-50%) scaleX(1.120)">38</div>
<div class="t nm" style="left:253.30px;top:452.60px;transform:translateX(-50%) scaleX(1.100)">山</div>
<div class="t nm" style="left:253.30px;top:536.60px;transform:translateX(-50%) scaleX(1.100)">口</div>
<div class="t dt" style="left:293.50px;top:413.00px;transform:translateX(-50%) scaleX(1.100)">20<span class="s">日</span></div>
<div class="t dt" style="left:293.50px;top:422.30px;transform:translateX(-50%) scaleX(1.100)">11:20</div>
<div class="t num" style="left:280.00px;top:438.70px;transform:translateX(-50%) scaleX(1.120)">39</div>
<div class="t nm" style="left:279.30px;top:452.60px;transform:translateX(-50%) scaleX(1.100)">小</div>
<div class="t nm" style="left:279.30px;top:494.60px;transform:translateX(-50%) scaleX(1.100)">野</div>
<div class="t nm" style="left:279.30px;top:536.60px;transform:translateX(-50%) scaleX(1.100)">田</div>
<div class="t num" style="left:306.50px;top:438.70px;transform:translateX(-50%) scaleX(1.120)">40</div>
<div class="t nm" style="left:305.80px;top:452.60px;transform:translateX(-50%) scaleX(1.100)">西</div>
<div class="t nm" style="left:305.80px;top:536.60px;transform:translateX(-50%) scaleX(1.100)">京</div>
<div class="t dt" style="left:372.50px;top:384.90px;transform:translateX(-50%) scaleX(1.100)">22<span class="s">日</span></div>
<div class="t dt" style="left:372.50px;top:394.20px;transform:translateX(-50%) scaleX(1.100)">12:20</div>
<div class="t dt" style="left:345.50px;top:413.00px;transform:translateX(-50%) scaleX(1.100)">21<span class="s">日</span></div>
<div class="t dt" style="left:345.50px;top:422.30px;transform:translateX(-50%) scaleX(1.100)">9:00</div>
<div class="t num" style="left:332.50px;top:438.70px;transform:translateX(-50%) scaleX(1.120)">41</div>
<div class="t nm" style="left:331.80px;top:452.60px;transform:translateX(-50%) scaleX(1.100)">宇</div>
<div class="t nm" style="left:331.80px;top:480.60px;transform:translateX(-50%) scaleX(1.100)">部</div>
<div class="t nm" style="left:331.80px;top:508.60px;transform:translateX(-50%) scaleX(1.100)">鴻</div>
<div class="t nm" style="left:331.80px;top:536.60px;transform:translateX(-50%) scaleX(1.100)">城</div>
<div class="t num" style="left:358.00px;top:438.70px;transform:translateX(-50%) scaleX(1.120)">42</div>
<div class="t nm" style="left:357.30px;top:452.60px;transform:translateX(-50%) scaleX(1.100)">宇</div>
<div class="t nm" style="left:357.30px;top:494.60px;transform:translateX(-50%) scaleX(1.100)">部</div>
<div class="t nm" style="left:357.30px;top:536.60px;transform:translateX(-50%) scaleX(1.100)">西</div>
<div class="t num" style="left:398.00px;top:438.70px;transform:translateX(-50%) scaleX(1.120)">43</div>
<div class="t nm" style="left:397.30px;top:452.60px;transform:translateX(-50%) scaleX(1.100)">香</div>
<div class="t nm" style="left:397.30px;top:536.60px;transform:translateX(-50%) scaleX(1.100)">川</div>
<div class="t lb" style="left:528.60px;top:333.90px;transform:translateX(-50%) scaleX(1.100)">BまたはD</div>
<div class="t dt" style="left:529.50px;top:362.00px;transform:translateX(-50%) scaleX(1.100)">23<span class="s">日</span></div>
<div class="t dt" style="left:529.50px;top:371.30px;transform:translateX(-50%) scaleX(1.100)">10:00</div>
<div class="t dt" style="left:476.50px;top:384.90px;transform:translateX(-50%) scaleX(1.100)">21<span class="s">日</span></div>
<div class="t dt" style="left:476.50px;top:394.20px;transform:translateX(-50%) scaleX(1.100)">11:20</div>
<div class="t dt" style="left:450.50px;top:413.00px;transform:translateX(-50%) scaleX(1.100)">18<span class="s">日</span></div>
<div class="t dt" style="left:450.50px;top:422.30px;transform:translateX(-50%) scaleX(1.100)">10:00</div>
<div class="t num" style="left:437.50px;top:438.70px;transform:translateX(-50%) scaleX(1.120)">44</div>
<div class="t nm" style="left:436.80px;top:452.60px;transform:translateX(-50%) scaleX(1.100)">下</div>
<div class="t nm" style="left:436.80px;top:469.40px;transform:translateX(-50%) scaleX(1.100)">関</div>
<div class="t nm" style="left:436.80px;top:486.20px;transform:translateX(-50%) scaleX(1.100)">中</div>
<div class="t nm" style="left:436.80px;top:503.00px;transform:translateX(-50%) scaleX(1.100)">等</div>
<div class="t nm" style="left:436.80px;top:519.80px;transform:translateX(-50%) scaleX(1.100)">教</div>
<div class="t nm" style="left:436.80px;top:536.60px;transform:translateX(-50%) scaleX(1.100)">育</div>
<div class="t num" style="left:463.00px;top:438.70px;transform:translateX(-50%) scaleX(1.120)">45</div>
<div class="t nm" style="left:462.30px;top:452.60px;transform:translateX(-50%) scaleX(1.100)">下</div>
<div class="t nm" style="left:462.30px;top:480.60px;transform:translateX(-50%) scaleX(1.100)">関</div>
<div class="t nm" style="left:462.30px;top:508.60px;transform:translateX(-50%) scaleX(1.100)">国</div>
<div class="t nm" style="left:462.30px;top:536.60px;transform:translateX(-50%) scaleX(1.100)">際</div>
<div class="t dt" style="left:503.50px;top:413.00px;transform:translateX(-50%) scaleX(1.100)">18<span class="s">日</span></div>
<div class="t dt" style="left:503.50px;top:422.30px;transform:translateX(-50%) scaleX(1.100)">12:20</div>
<div class="t num" style="left:490.00px;top:438.70px;transform:translateX(-50%) scaleX(1.120)">46</div>
<div class="t nm" style="left:489.30px;top:452.60px;transform:translateX(-50%) scaleX(1.100)">厚</div>
<div class="t nm" style="left:489.30px;top:536.60px;transform:translateX(-50%) scaleX(1.100)">狭</div>
<div class="t num" style="left:516.50px;top:438.70px;transform:translateX(-50%) scaleX(1.120)">47</div>
<div class="t nm" style="left:515.80px;top:452.60px;transform:translateX(-50%) scaleX(1.100)">豊</div>
<div class="t nm" style="left:515.80px;top:536.60px;transform:translateX(-50%) scaleX(1.100)">北</div>
<div class="t dt" style="left:581.50px;top:384.90px;transform:translateX(-50%) scaleX(1.100)">21<span class="s">日</span></div>
<div class="t dt" style="left:581.50px;top:394.20px;transform:translateX(-50%) scaleX(1.100)">13:40</div>
<div class="t dt" style="left:555.50px;top:413.00px;transform:translateX(-50%) scaleX(1.100)">19<span class="s">日</span></div>
<div class="t dt" style="left:555.50px;top:422.30px;transform:translateX(-50%) scaleX(1.100)">10:00</div>
<div class="t num" style="left:542.50px;top:438.70px;transform:translateX(-50%) scaleX(1.120)">48</div>
<div class="t nm" style="left:541.80px;top:452.60px;transform:translateX(-50%) scaleX(1.100)">下</div>
<div class="t nm" style="left:541.80px;top:473.60px;transform:translateX(-50%) scaleX(1.100)">関</div>
<div class="t nm" style="left:541.80px;top:494.60px;transform:translateX(-50%) scaleX(1.100)">中</div>
<div class="t nm" style="left:541.80px;top:515.60px;transform:translateX(-50%) scaleX(1.100)">央</div>
<div class="t nm" style="left:541.80px;top:536.60px;transform:translateX(-50%) scaleX(1.100)">工</div>
<div class="t num" style="left:568.00px;top:438.70px;transform:translateX(-50%) scaleX(1.120)">49</div>
<div class="t nm" style="left:567.30px;top:494.60px;transform:translateX(-50%) scaleX(1.100)">響</div>
<div class="t dt" style="left:607.50px;top:413.00px;transform:translateX(-50%) scaleX(1.100)">19<span class="s">日</span></div>
<div class="t dt" style="left:607.50px;top:422.30px;transform:translateX(-50%) scaleX(1.100)">12:20</div>
<div class="t num" style="left:594.00px;top:438.70px;transform:translateX(-50%) scaleX(1.120)">50</div>
<div class="t nm" style="left:593.30px;top:452.60px;transform:translateX(-50%) scaleX(1.100)">大</div>
<div class="t nm" style="left:593.30px;top:480.60px;transform:translateX(-50%) scaleX(1.100)">津</div>
<div class="t nm" style="left:593.30px;top:508.60px;transform:translateX(-50%) scaleX(1.100)">緑</div>
<div class="t nm" style="left:593.30px;top:536.60px;transform:translateX(-50%) scaleX(1.100)">洋</div>
<div class="t num" style="left:620.50px;top:438.70px;transform:translateX(-50%) scaleX(1.120)">51</div>
<div class="t nm" style="left:619.80px;top:452.60px;transform:translateX(-50%) scaleX(1.100)">長</div>
<div class="t nm" style="left:619.80px;top:536.60px;transform:translateX(-50%) scaleX(1.100)">門</div>
<div class="t lb" style="left:736.90px;top:333.90px;transform:translateX(-50%) scaleX(1.100)">BまたはD</div>
<div class="t dt" style="left:737.50px;top:362.00px;transform:translateX(-50%) scaleX(1.100)">23<span class="s">日</span></div>
<div class="t dt" style="left:737.50px;top:371.30px;transform:translateX(-50%) scaleX(1.100)">12:20</div>
<div class="t dt" style="left:685.50px;top:384.90px;transform:translateX(-50%) scaleX(1.100)">22<span class="s">日</span></div>
<div class="t dt" style="left:685.50px;top:394.20px;transform:translateX(-50%) scaleX(1.100)">10:00</div>
<div class="t dt" style="left:659.50px;top:413.00px;transform:translateX(-50%) scaleX(1.100)">20<span class="s">日</span></div>
<div class="t dt" style="left:659.50px;top:422.30px;transform:translateX(-50%) scaleX(1.100)">9:00</div>
<div class="t num" style="left:646.50px;top:438.70px;transform:translateX(-50%) scaleX(1.120)">52</div>
<div class="t nm" style="left:645.80px;top:452.60px;transform:translateX(-50%) scaleX(1.100)">西</div>
<div class="t nm" style="left:645.80px;top:536.60px;transform:translateX(-50%) scaleX(1.100)">市</div>
<div class="t num" style="left:672.00px;top:438.70px;transform:translateX(-50%) scaleX(1.120)">53</div>
<div class="t nm" style="left:671.30px;top:452.60px;transform:translateX(-50%) scaleX(1.100)">青</div>
<div class="t nm" style="left:671.30px;top:536.60px;transform:translateX(-50%) scaleX(1.100)">嶺</div>
<div class="t dt" style="left:711.50px;top:413.00px;transform:translateX(-50%) scaleX(1.100)">20<span class="s">日</span></div>
<div class="t dt" style="left:711.50px;top:422.30px;transform:translateX(-50%) scaleX(1.100)">11:20</div>
<div class="t num" style="left:698.00px;top:438.70px;transform:translateX(-50%) scaleX(1.120)">54</div>
<div class="t nm" style="left:697.30px;top:452.60px;transform:translateX(-50%) scaleX(1.100)">下</div>
<div class="t nm" style="left:697.30px;top:494.60px;transform:translateX(-50%) scaleX(1.100)">関</div>
<div class="t nm" style="left:697.30px;top:536.60px;transform:translateX(-50%) scaleX(1.100)">商</div>
<div class="t num" style="left:724.50px;top:438.70px;transform:translateX(-50%) scaleX(1.120)">55</div>
<div class="t nm" style="left:723.80px;top:452.60px;transform:translateX(-50%) scaleX(1.100)">下</div>
<div class="t nm" style="left:723.80px;top:494.60px;transform:translateX(-50%) scaleX(1.100)">関</div>
<div class="t nm" style="left:723.80px;top:536.60px;transform:translateX(-50%) scaleX(1.100)">工</div>
<div class="t dt" style="left:783.50px;top:384.90px;transform:translateX(-50%) scaleX(1.100)">22<span class="s">日</span></div>
<div class="t dt" style="left:783.50px;top:394.20px;transform:translateX(-50%) scaleX(1.100)">12:20</div>
<div class="t dt" style="left:763.50px;top:413.00px;transform:translateX(-50%) scaleX(1.100)">21<span class="s">日</span></div>
<div class="t dt" style="left:763.50px;top:422.30px;transform:translateX(-50%) scaleX(1.100)">10:00</div>
<div class="t num" style="left:750.50px;top:438.70px;transform:translateX(-50%) scaleX(1.120)">56</div>
<div class="t nm" style="left:749.80px;top:452.60px;transform:translateX(-50%) scaleX(1.100)">早</div>
<div class="t nm" style="left:749.80px;top:536.60px;transform:translateX(-50%) scaleX(1.100)">鞆</div>
<div class="t num" style="left:776.00px;top:438.70px;transform:translateX(-50%) scaleX(1.120)">57</div>
<div class="t nm" style="left:775.30px;top:452.60px;transform:translateX(-50%) scaleX(1.100)">下</div>
<div class="t nm" style="left:775.30px;top:494.60px;transform:translateX(-50%) scaleX(1.100)">関</div>
<div class="t nm" style="left:775.30px;top:536.60px;transform:translateX(-50%) scaleX(1.100)">西</div>
<div class="t num" style="left:803.00px;top:438.70px;transform:translateX(-50%) scaleX(1.120)">58</div>
<div class="t nm" style="left:802.30px;top:452.60px;transform:translateX(-50%) scaleX(1.100)">豊</div>
<div class="t nm" style="left:802.30px;top:536.60px;transform:translateX(-50%) scaleX(1.100)">浦</div>
<div class="t ttl" id="s0_0" style="left:78.5px;top:36.0px;transform-origin:0 0;transform:scaleX(1.0056);">ビジコム柳井スタジアム</div>
<div class="t ttl" id="s0_1" style="left:221.3px;top:36.0px;transform-origin:0 0;transform:scaleX(0.9647);">(℡</div>
<div class="t ttl" id="s0_2" style="left:237.7px;top:36.0px;transform-origin:0 0;transform:scaleX(1.0990);letter-spacing:1px;font-size:14px;">0820-22-1189)</div>
<div class="ul" style="left:78px;top:49px;width:274px"></div>
<div class="t ttl" id="s1_0" style="left:495.8px;top:36.0px;transform-origin:0 0;transform:scaleX(1.0038);">津田恒実</div>
<div class="t ttl" id="s1_1" style="left:548.0px;top:36.0px;transform-origin:0 0;transform:scaleX(0.9944);">ﾒﾓﾘｱﾙｽﾀｼﾞｱﾑ</div>
<div class="t ttl" id="s1_2" style="left:619.6px;top:36.0px;transform-origin:0 0;transform:scaleX(0.9824);">(℡</div>
<div class="t ttl" id="s1_3" style="left:636.3px;top:36.0px;transform-origin:0 0;transform:scaleX(1.2609);letter-spacing:1px;font-size:14px;">0834-28-</div>
<div class="t ttl" id="s1_4" style="left:715.2px;top:36.0px;transform-origin:0 0;transform:scaleX(1.2024);letter-spacing:2.5px;font-size:14px;">0031</div>
<div class="t ttl" id="s1_5" style="left:763.5px;top:36.0px;transform-origin:0 0;transform:scaleX(1.3750);">)</div>
<div class="ul" style="left:496px;top:49px;width:275px"></div>
<div class="t ttl" id="s2_0" style="left:88.5px;top:305.0px;transform-origin:0 0;transform:scaleX(1.0097);">ＵＰＲスタジアム</div>
<div class="t ttl" id="s2_1" style="left:192.5px;top:305.0px;transform-origin:0 0;transform:scaleX(0.9706);">(℡</div>
<div class="t ttl" id="s2_2" style="left:209.0px;top:305.0px;transform-origin:0 0;transform:scaleX(1.2500);letter-spacing:1px;font-size:14px;">0836-29-</div>
<div class="t ttl" id="s2_3" style="left:287.0px;top:305.0px;transform-origin:0 0;transform:scaleX(1.2561);letter-spacing:2.5px;font-size:14px;">0089</div>
<div class="t ttl" id="s2_4" style="left:337.3px;top:305.0px;transform-origin:0 0;transform:scaleX(1.2500);">)</div>
<div class="ul" style="left:88px;top:317px;width:256px"></div>
<div class="t ttl" id="s3_0" style="left:542.2px;top:305.0px;transform-origin:0 0;transform:scaleX(1.0058);">下関球場</div>
<div class="t ttl" id="s3_1" style="left:594.5px;top:305.0px;transform-origin:0 0;transform:scaleX(0.9706);">(℡</div>
<div class="t ttl" id="s3_2" style="left:611.0px;top:305.0px;transform-origin:0 0;transform:scaleX(1.0952);letter-spacing:1px;font-size:14px;">083-259-8070)</div>
<div class="ul" style="left:542px;top:317px;width:184px"></div>
<div style="position:absolute;left:840px;top:37px;width:281px;height:90px;background:#c0c0be"></div>
<div style="position:absolute;left:834px;top:31px;width:281px;height:90px;background:#fefefc"></div>
<div style="position:absolute;left:834px;top:31px;width:281px;height:1px;background:#3a3a3a"></div>
<div style="position:absolute;left:834px;top:31px;width:2px;height:90px;background:#8a8a8a"></div>
<div style="position:absolute;left:1114px;top:31px;width:1px;height:90px;background:#3a3a3a"></div>
<div style="position:absolute;left:834px;top:120px;width:281px;height:1px;background:#555"></div>
<div style="position:absolute;left:1115px;top:32px;width:1px;height:89px;background:#9a9a9a"></div>
<div class="t g" id="i1" style="left:850.5px;top:63.8px;font-size:13.5px;transform-origin:0 0;transform:scaleX(1.0074);font-weight:bold;color:#000;">地区予選</div>
<div class="t g" id="i2" style="left:850.5px;top:79.8px;font-size:13.5px;transform-origin:0 0;transform:scaleX(0.9805);font-weight:bold;color:#000;">県決勝</div>
<div class="t g" id="i3a" style="left:926.6px;top:63.8px;font-size:13.5px;transform-origin:0 0;transform:scaleX(1.0330);font-weight:bold;color:#000;">4月18日(木)～</div>
<div class="t g" id="i3b" style="left:1024.2px;top:63.8px;font-size:13.5px;transform-origin:0 0;transform:scaleX(1.0311);font-weight:bold;color:#000;">4月22日(月)</div>
<div class="t g" id="i4a" style="left:926.6px;top:79.8px;font-size:13.5px;transform-origin:0 0;transform:scaleX(1.0330);font-weight:bold;color:#000;">4月27日(土)～</div>
<div class="t g" id="i4b" style="left:1024.2px;top:79.8px;font-size:13.5px;transform-origin:0 0;transform:scaleX(1.0311);font-weight:bold;color:#000;">4月30日(火)</div>
<div style="position:absolute;left:852px;top:181px;width:255px;height:254px;border:1px solid #000"></div>
<div class="t g" id="f1a" style="left:907.0px;top:194.3px;font-size:12px;transform-origin:0 0;transform:scaleX(1.0104);color:#000;-webkit-text-stroke:0.25px #000;">下関球場</div>
<div class="t g" id="f1b" style="left:955.5px;top:194.3px;font-size:12px;transform-origin:0 0;transform:scaleX(0.8889);color:#000;-webkit-text-stroke:0.25px #000;">(℡</div>
<div class="t g" id="f1c" style="left:971.5px;top:194.3px;font-size:12px;transform-origin:0 0;transform:scaleX(1.0064);color:#000;-webkit-text-stroke:0.25px #000;">083-259-8070)</div>
<div style="position:absolute;left:908px;top:205px;width:144px;height:1px;background:#000"></div>
<div class="t g" id="f2" style="left:935.5px;top:249.3px;font-size:16.5px;transform-origin:0 0;transform:scaleX(0.9506);font-weight:bold;color:#000;">県決勝大会</div>
<div style="position:absolute;left:935px;top:263px;width:80px;height:2px;background:#555"></div>
<div style="position:absolute;left:979px;top:277px;width:2px;height:21px;background:#000"></div>
<div style="position:absolute;left:915px;top:296px;width:130px;height:2px;background:#000"></div>
<div style="position:absolute;left:915px;top:296px;width:2px;height:32px;background:#000"></div>
<div style="position:absolute;left:1043px;top:296px;width:2px;height:32px;background:#000"></div>
<div style="position:absolute;left:883px;top:326px;width:66px;height:2px;background:#000"></div>
<div style="position:absolute;left:1011px;top:326px;width:67px;height:2px;background:#000"></div>
<div style="position:absolute;left:883px;top:326px;width:2px;height:20px;background:#000"></div>
<div style="position:absolute;left:947px;top:326px;width:2px;height:20px;background:#000"></div>
<div style="position:absolute;left:1011px;top:326px;width:2px;height:20px;background:#000"></div>
<div style="position:absolute;left:1076px;top:326px;width:2px;height:20px;background:#000"></div>
<div style="position:absolute;left:867px;top:344px;width:34px;height:2px;background:#000"></div>
<div style="position:absolute;left:931px;top:344px;width:34px;height:2px;background:#000"></div>
<div style="position:absolute;left:995px;top:344px;width:35px;height:2px;background:#000"></div>
<div style="position:absolute;left:1059px;top:344px;width:35px;height:2px;background:#000"></div>
<div style="position:absolute;left:867px;top:344px;width:2px;height:18px;background:#000"></div>
<div style="position:absolute;left:899px;top:344px;width:2px;height:18px;background:#000"></div>
<div style="position:absolute;left:931px;top:344px;width:2px;height:18px;background:#000"></div>
<div style="position:absolute;left:963px;top:344px;width:2px;height:18px;background:#000"></div>
<div style="position:absolute;left:995px;top:344px;width:2px;height:18px;background:#000"></div>
<div style="position:absolute;left:1028px;top:344px;width:2px;height:18px;background:#000"></div>
<div style="position:absolute;left:1059px;top:344px;width:2px;height:18px;background:#000"></div>
<div style="position:absolute;left:1092px;top:344px;width:2px;height:18px;background:#000"></div>
<div class="t c" style="left:980.0px;top:300.8px;font-size:7.6px;color:#000;font-family:'Liberation Sans','Noto Sans CJK JP',sans-serif;">30<span class="s">日</span></div>
<div class="t c" style="left:980.0px;top:310.3px;font-size:7.6px;color:#000;font-family:'Liberation Sans','Noto Sans CJK JP',sans-serif;">10:00</div>
<div class="t c" style="left:917.5px;top:329.4px;font-size:7.6px;color:#000;font-family:'Liberation Sans','Noto Sans CJK JP',sans-serif;">28<span class="s">日</span></div>
<div class="t c" style="left:917.5px;top:338.5px;font-size:7.6px;color:#000;font-family:'Liberation Sans','Noto Sans CJK JP',sans-serif;">10:00</div>
<div class="t c" style="left:1044.0px;top:330.1px;font-size:7.6px;color:#000;font-family:'Liberation Sans','Noto Sans CJK JP',sans-serif;">28<span class="s">日</span></div>
<div class="t c" style="left:1044.0px;top:339.2px;font-size:7.6px;color:#000;font-family:'Liberation Sans','Noto Sans CJK JP',sans-serif;">12:20</div>
<div class="t c" style="left:882.5px;top:347.2px;font-size:7.6px;color:#000;font-family:'Liberation Sans','Noto Sans CJK JP',sans-serif;">27<span class="s">日</span></div>
<div class="t c" style="left:882.5px;top:356.7px;font-size:7.6px;color:#000;font-family:'Liberation Sans','Noto Sans CJK JP',sans-serif;">8:30</div>
<div class="t c" style="left:947.5px;top:347.2px;font-size:7.6px;color:#000;font-family:'Liberation Sans','Noto Sans CJK JP',sans-serif;">27<span class="s">日</span></div>
<div class="t c" style="left:947.5px;top:355.9px;font-size:7.6px;color:#000;font-family:'Liberation Sans','Noto Sans CJK JP',sans-serif;">10:50</div>
<div class="t c" style="left:1011.0px;top:348.3px;font-size:7.6px;color:#000;font-family:'Liberation Sans','Noto Sans CJK JP',sans-serif;">27<span class="s">日</span></div>
<div class="t c" style="left:1011.0px;top:357.2px;font-size:7.6px;color:#000;font-family:'Liberation Sans','Noto Sans CJK JP',sans-serif;">13:10</div>
<div class="t c" style="left:1075.7px;top:346.4px;font-size:7.6px;color:#000;font-family:'Liberation Sans','Noto Sans CJK JP',sans-serif;">27<span class="s">日</span></div>
<div class="t c" style="left:1075.7px;top:355.3px;font-size:7.6px;color:#000;font-family:'Liberation Sans','Noto Sans CJK JP',sans-serif;">15:30</div>
<div class="t g c" style="left:868.2px;top:361.7px;font-size:11px;color:#000;line-height:10.9px;-webkit-text-stroke:0.3px #000;">宇</div>
<div class="t g c" style="left:868.2px;top:372.6px;font-size:11px;color:#000;line-height:10.9px;-webkit-text-stroke:0.3px #000;">部</div>
<div class="t g c" style="left:868.2px;top:383.5px;font-size:11px;color:#000;line-height:10.9px;-webkit-text-stroke:0.3px #000;">鴻</div>
<div class="t g c" style="left:868.2px;top:394.4px;font-size:11px;color:#000;line-height:10.9px;-webkit-text-stroke:0.3px #000;">城</div>
<div class="t g c" style="left:900.7px;top:361.7px;font-size:11px;color:#000;line-height:10.9px;-webkit-text-stroke:0.3px #000;">華</div>
<div class="t g c" style="left:900.7px;top:372.6px;font-size:11px;color:#000;line-height:10.9px;-webkit-text-stroke:0.3px #000;">陵</div>
<div class="t g c" style="left:932.3px;top:361.7px;font-size:11px;color:#000;line-height:10.9px;-webkit-text-stroke:0.3px #000;">早</div>
<div class="t g c" style="left:932.3px;top:372.6px;font-size:11px;color:#000;line-height:10.9px;-webkit-text-stroke:0.3px #000;">鞆</div>
<div class="t g c" style="left:964.5px;top:361.7px;font-size:11px;color:#000;line-height:10.9px;-webkit-text-stroke:0.3px #000;">周</div>
<div class="t g c" style="left:964.5px;top:372.6px;font-size:11px;color:#000;line-height:10.9px;-webkit-text-stroke:0.3px #000;">防</div>
<div class="t g c" style="left:964.5px;top:383.5px;font-size:11px;color:#000;line-height:10.9px;-webkit-text-stroke:0.3px #000;">大</div>
<div class="t g c" style="left:964.5px;top:394.4px;font-size:11px;color:#000;line-height:10.9px;-webkit-text-stroke:0.3px #000;">島</div>
<div class="t g c" style="left:995.4px;top:361.7px;font-size:11px;color:#000;line-height:10.9px;-webkit-text-stroke:0.3px #000;">光</div>
<div class="t g c" style="left:1027.5px;top:361.7px;font-size:11px;color:#000;line-height:10.9px;-webkit-text-stroke:0.3px #000;">宇</div>
<div class="t g c" style="left:1027.5px;top:372.6px;font-size:11px;color:#000;line-height:10.9px;-webkit-text-stroke:0.3px #000;">部</div>
<div class="t g c" style="left:1059.5px;top:361.7px;font-size:11px;color:#000;line-height:10.9px;-webkit-text-stroke:0.3px #000;">高</div>
<div class="t g c" style="left:1059.5px;top:372.6px;font-size:11px;color:#000;line-height:10.9px;-webkit-text-stroke:0.3px #000;">川</div>
<div class="t g c" style="left:1059.5px;top:383.5px;font-size:11px;color:#000;line-height:10.9px;-webkit-text-stroke:0.3px #000;">学</div>
<div class="t g c" style="left:1059.5px;top:394.4px;font-size:11px;color:#000;line-height:10.9px;-webkit-text-stroke:0.3px #000;">園</div>
<div class="t g c" style="left:1092.0px;top:361.7px;font-size:11px;color:#000;line-height:10.9px;-webkit-text-stroke:0.3px #000;">長</div>
<div class="t g c" style="left:1092.0px;top:372.6px;font-size:11px;color:#000;line-height:10.9px;-webkit-text-stroke:0.3px #000;">門</div>
<div class="t c" style="left:882.0px;top:412.4px;font-size:11px;color:#000;font-family:'Liberation Sans',sans-serif;">(A)</div>
<div class="t c" style="left:950.0px;top:412.4px;font-size:11px;color:#000;font-family:'Liberation Sans',sans-serif;">(B)</div>
<div class="t c" style="left:1014.3px;top:412.8px;font-size:11px;color:#000;font-family:'Liberation Sans',sans-serif;">(C)</div>
<div class="t c" style="left:1078.4px;top:409.5px;font-size:11px;color:#000;font-family:'Liberation Sans',sans-serif;">(D)</div>
</body></html>
